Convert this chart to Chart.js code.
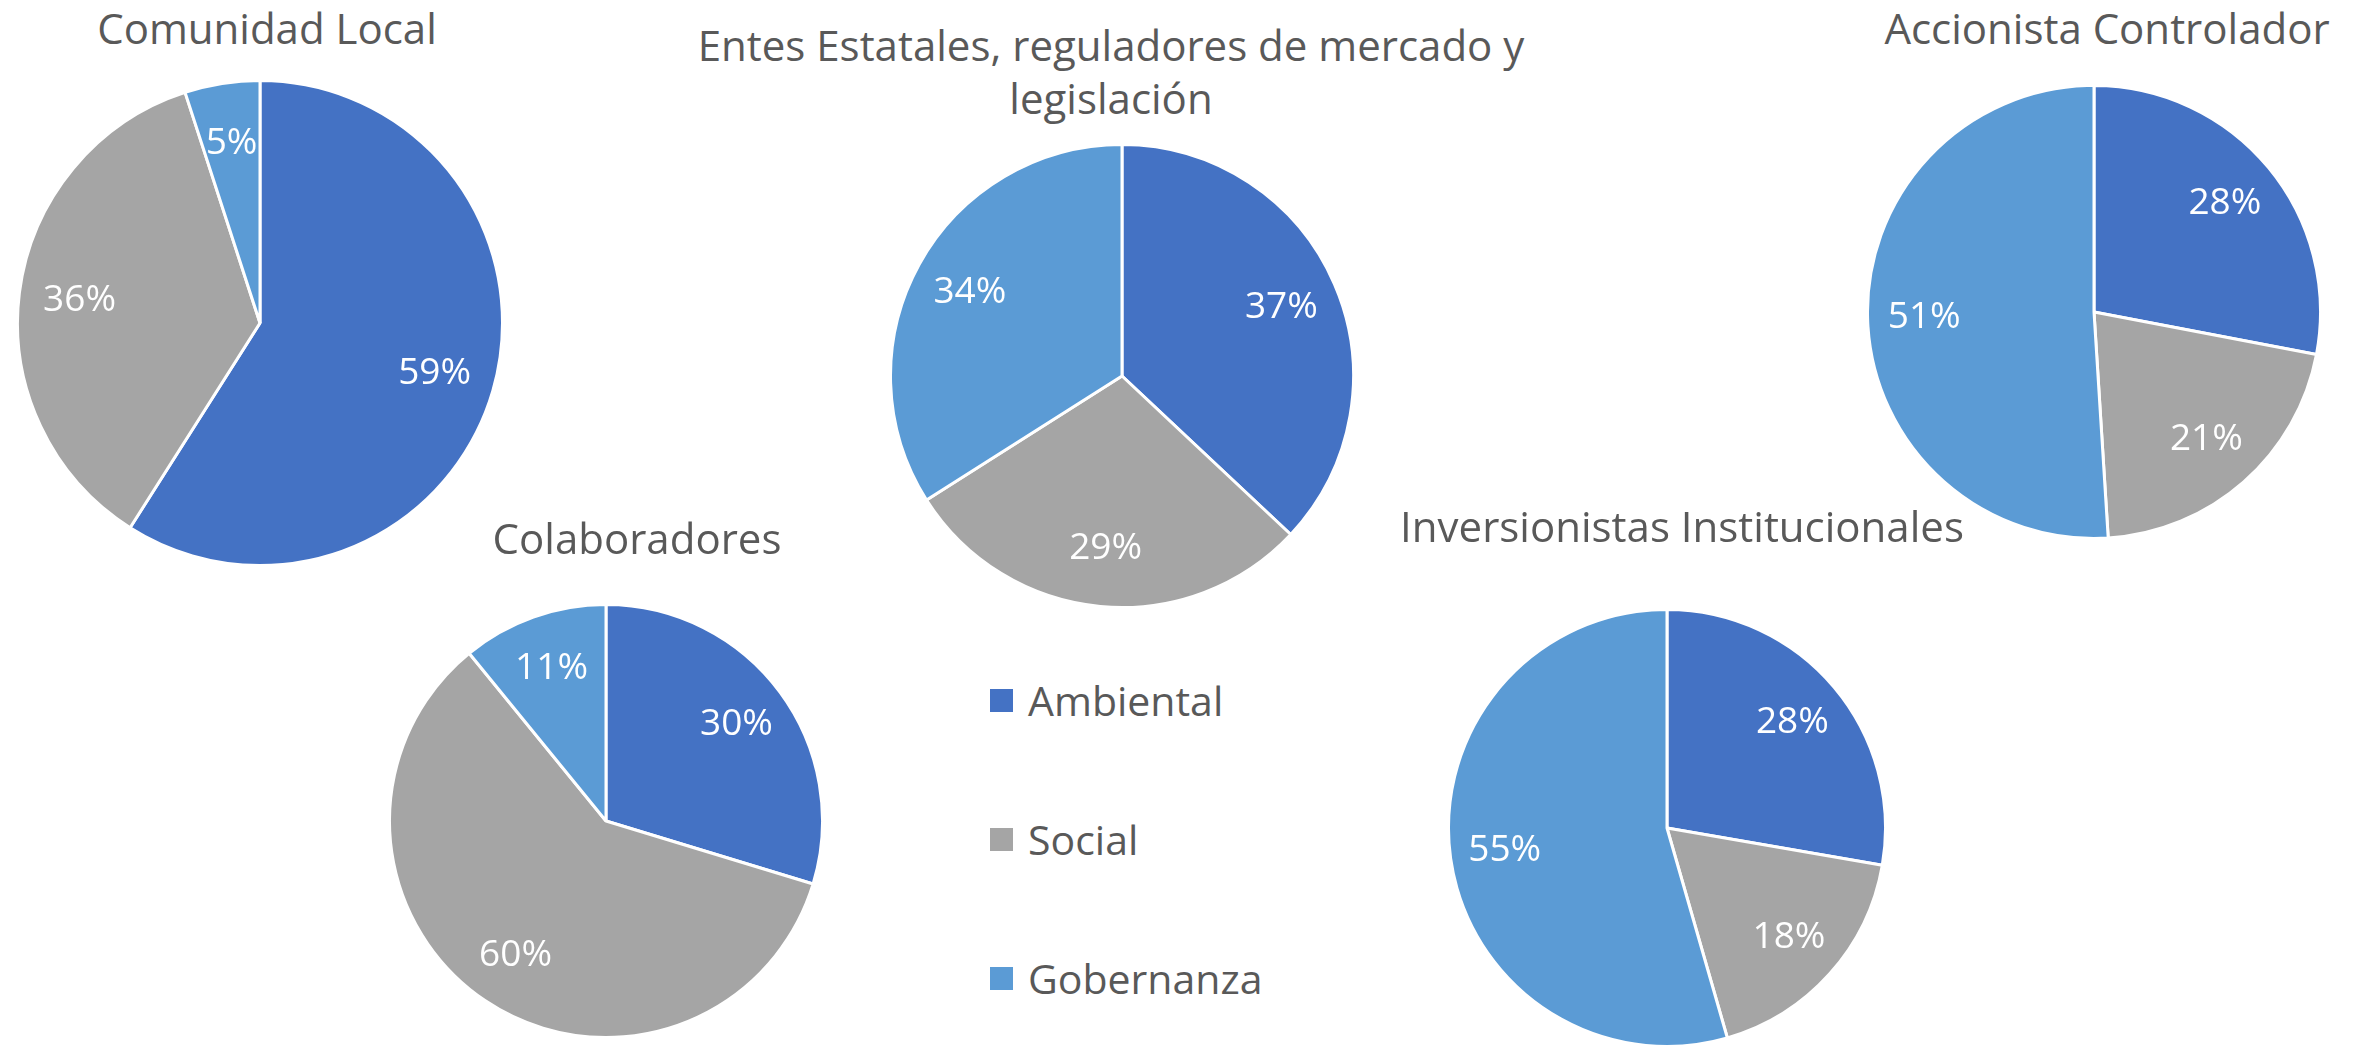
<!DOCTYPE html>
<html>
<head>
<meta charset="utf-8">
<script src="https://cdn.jsdelivr.net/npm/chart.js@4"></script>
<style>
    body { margin: 0; padding: 0; background: #fff; width: 2361px; height: 1045px; overflow: hidden; position: relative; font-family: 'Open Sans', sans-serif; }
    .pie { position: absolute; }
    .title { position: absolute; color: #595959; font-size: 42px; white-space: nowrap; text-align: center; transform: translate(-50%, -50%); line-height: 53px; }
    .legend-item { position: absolute; display: flex; align-items: center; color: #595959; font-size: 41px; transform: translateY(-50%); }
    .legend-item span.box { width: 23px; height: 23px; margin-right: 15px; display: inline-block; }
</style>
</head>
<body>
<div id="legend"></div>
<script>
// categories and colours
const categories = ['Ambiental', 'Social', 'Gobernanza'];
const colors = ['#4472C4', '#A5A5A5', '#5B9BD5'];

// chart titles
const titles = [
    'Comunidad Local',
    'Entes Estatales, reguladores de mercado y<br>legislación',
    'Accionista Controlador',
    'Colaboradores',
    'Inversionistas Institucionales',
];

// percentages per group (Ambiental, Social, Gobernanza)
const comunidadLocal = [59, 36, 5];
const entesEstatales = [37, 29, 34];
const accionistaControlador = [28, 21, 51];
const colaboradores = [30, 60, 11];
const inversionistas = [28, 18, 55];

const seriesList = [comunidadLocal, entesEstatales, accionistaControlador, colaboradores, inversionistas];

// layout: pie centre, radius and title position (pixels)
const layout = [
    { cx: 260, cy: 323, r: 242, tx: 267, ty: 27 },
    { cx: 1122, cy: 376, r: 231, tx: 1111, ty: 71 },
    { cx: 2094, cy: 312, r: 226, tx: 2107, ty: 27 },
    { cx: 606, cy: 821, r: 216, tx: 637, ty: 537 },
    { cx: 1667, cy: 828, r: 218, tx: 1682, ty: 525 },
];
const legendX = 990;
const legendY = [700, 839, 978];

// draw the % labels inside each slice
const sliceLabels = {
    id: 'sliceLabels',
    afterDatasetsDraw(chart) {
        const ctx = chart.ctx;
        const meta = chart.getDatasetMeta(0);
        const values = chart.data.datasets[0].data;
        ctx.save();
        ctx.fillStyle = '#ffffff';
        ctx.font = '37px "Open Sans"';
        ctx.textAlign = 'center';
        ctx.textBaseline = 'middle';
        meta.data.forEach((arc, i) => {
            const mid = (arc.startAngle + arc.endAngle) / 2;
            const dist = arc.outerRadius * 0.75;
            ctx.fillText(values[i] + '%', arc.x + Math.cos(mid) * dist, arc.y + Math.sin(mid) * dist);
        });
        ctx.restore();
    },
};

seriesList.forEach((values, i) => {
    const pos = layout[i];
    const size = pos.r * 2 + 4;

    const box = document.createElement('div');
    box.className = 'pie';
    box.style.left = (pos.cx - size / 2) + 'px';
    box.style.top = (pos.cy - size / 2) + 'px';
    box.style.width = size + 'px';
    box.style.height = size + 'px';
    const canvas = document.createElement('canvas');
    box.appendChild(canvas);
    document.body.appendChild(box);

    const title = document.createElement('div');
    title.className = 'title';
    title.style.left = pos.tx + 'px';
    title.style.top = pos.ty + 'px';
    title.innerHTML = titles[i];
    document.body.appendChild(title);

    new Chart(canvas.getContext('2d'), {
        type: 'pie',
        data: {
            labels: categories,
            datasets: [{
                data: values,
                backgroundColor: colors,
                borderColor: '#ffffff',
                borderWidth: 3,
                hoverOffset: 0,
            }],
        },
        options: {
            responsive: true,
            maintainAspectRatio: false,
            animation: false,
            layout: { padding: 0 },
            plugins: {
                legend: { display: false },
                title: { display: false },
                tooltip: { enabled: false },
            },
        },
        plugins: [sliceLabels],
    });
});

// shared legend
const legend = document.getElementById('legend');
categories.forEach((name, i) => {
    const item = document.createElement('div');
    item.className = 'legend-item';
    item.style.left = legendX + 'px';
    item.style.top = legendY[i] + 'px';
    item.innerHTML = `<span class="box" style="background:${colors[i]}"></span>${name}`;
    legend.appendChild(item);
});
</script>
</body>
</html>
